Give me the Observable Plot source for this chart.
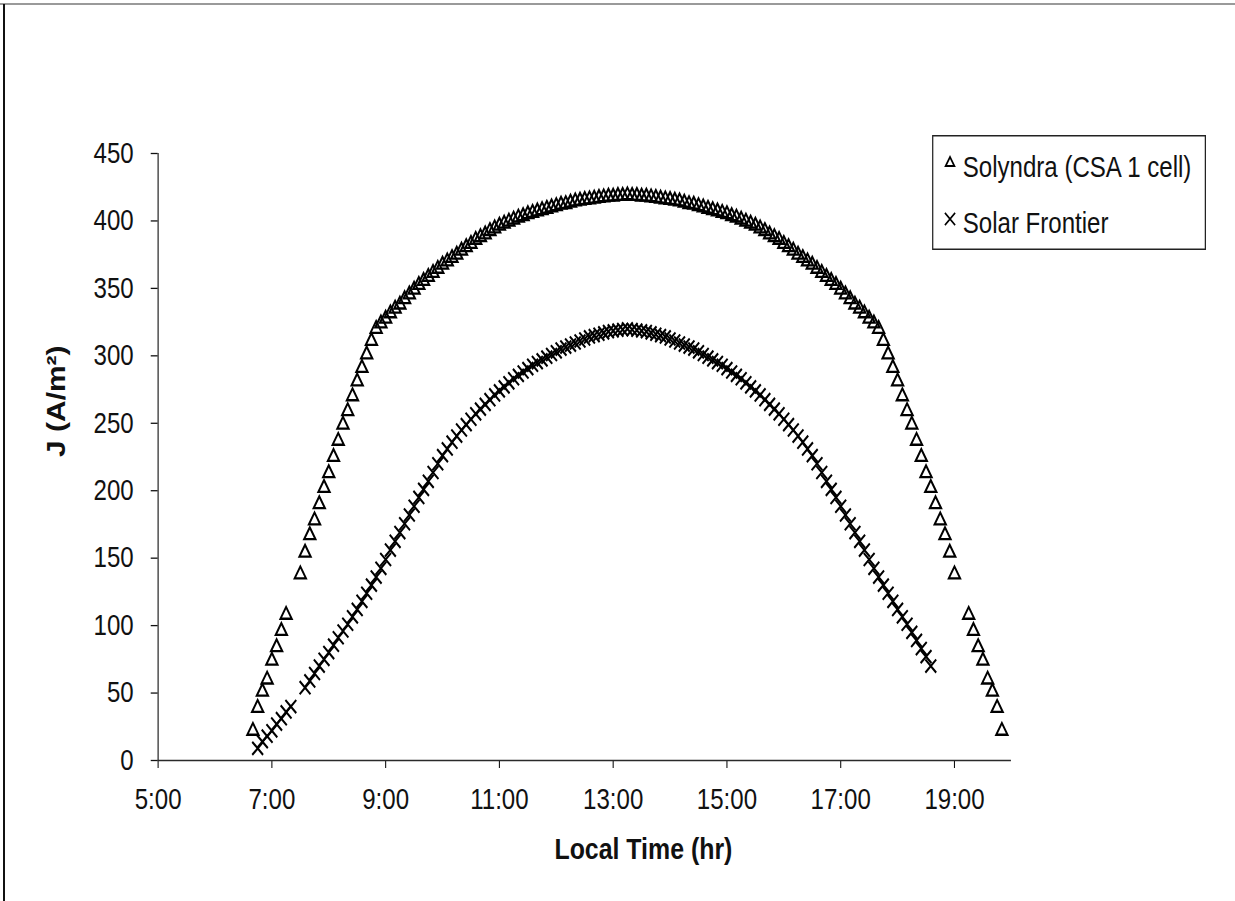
<!DOCTYPE html>
<html>
<head>
<meta charset="utf-8">
<script src="https://cdn.jsdelivr.net/npm/d3@7"></script>
<script src="https://cdn.jsdelivr.net/npm/@observablehq/plot@0.6"></script>
<style>
  html, body { margin: 0; padding: 0; background: #fff; }
  body { width: 1235px; height: 901px; overflow: hidden; position: relative; }
  #stage { position: absolute; left: 0; top: 0; width: 1488px; height: 901px;
           transform: scaleX(0.83); transform-origin: 0 0; }
  #stage > svg { position: absolute; left: 0; top: 0; }
  #frameTop { position: absolute; left: 0; top: 3px; width: 1235px; height: 2px; background: #9a9a9a; z-index: 5; }
  #frameLeft { position: absolute; left: 3px; top: 4px; width: 2px; height: 897px; background: #111; z-index: 5; }
</style>
</head>
<body>
<div id="stage"></div>
<div id="frameTop"></div>
<div id="frameLeft"></div>
<script>
// ---------- data ----------
const seriesNames = ["Solyndra (CSA 1 cell)", "Solar Frontier"];

const xTickHours  = [5, 7, 9, 11, 13, 15, 17, 19];
const xTickLabels = ["5:00", "7:00", "9:00", "11:00", "13:00", "15:00", "17:00", "19:00"];
const yTicks      = [0, 50, 100, 150, 200, 250, 300, 350, 400, 450];

const solyndraTime = [
  "6:40","6:45","6:50","6:55",
  "7:00","7:05","7:10","7:15","7:30","7:35","7:40","7:45","7:50","7:55",
  "8:00","8:05","8:10","8:15","8:20","8:25","8:30","8:35","8:40","8:45","8:50","8:55",
  "9:00","9:05","9:10","9:15","9:20","9:25","9:30","9:35","9:40","9:45","9:50","9:55",
  "10:00","10:05","10:10","10:15","10:20","10:25","10:30","10:35","10:40","10:45","10:50","10:55",
  "11:00","11:05","11:10","11:15","11:20","11:25","11:30","11:35","11:40","11:45","11:50","11:55",
  "12:00","12:05","12:10","12:15","12:20","12:25","12:30","12:35","12:40","12:45","12:50","12:55",
  "13:00","13:05","13:10","13:15","13:20","13:25","13:30","13:35","13:40","13:45","13:50","13:55",
  "14:00","14:05","14:10","14:15","14:20","14:25","14:30","14:35","14:40","14:45","14:50","14:55",
  "15:00","15:05","15:10","15:15","15:20","15:25","15:30","15:35","15:40","15:45","15:50","15:55",
  "16:00","16:05","16:10","16:15","16:20","16:25","16:30","16:35","16:40","16:45","16:50","16:55",
  "17:00","17:05","17:10","17:15","17:20","17:25","17:30","17:35","17:40","17:45","17:50","17:55",
  "18:00","18:05","18:10","18:15","18:20","18:25","18:30","18:35","18:40","18:45","18:50","18:55",
  "19:00","19:15","19:20","19:25","19:30","19:35","19:40","19:45","19:50"
];
const solyndraJ = [
  22, 39, 51, 60,
  74, 84, 96, 108, 138, 154, 167, 178, 190, 202,
  213, 225, 237, 249, 259, 270, 281, 291, 301, 311, 320, 324,
  327.5, 331.5, 335, 338, 342, 345.5, 349, 352.5, 355.5, 358.5, 361.5, 364.5,
  367.5, 370, 372.5, 375, 378, 380.5, 383, 386, 388, 390, 392.5, 394.5,
  396.5, 398, 399.5, 401, 402.5, 403.5, 405, 406, 407, 408, 409, 410,
  411, 412, 412.5, 413.5, 414.5, 415, 415.5, 416, 416.5, 417, 417.5, 418,
  418, 418.5, 418.5, 419, 418.5, 418.5, 418, 418, 417.5, 417, 416.5, 416,
  415.5, 415, 414.5, 413.5, 412.5, 412, 411, 410, 409, 408, 407, 406,
  405, 403.5, 402.5, 401, 399.5, 398, 396.5, 394.5, 392.5, 390, 388, 386,
  383, 380.5, 378, 375, 372.5, 370, 367.5, 364.5, 361.5, 358.5, 355.5, 352.5,
  349, 345.5, 342, 338, 335, 331.5, 327.5, 324, 320, 311, 301, 291,
  281, 270, 259, 249, 237, 225, 213, 202, 190, 178, 167, 154,
  138, 108, 96, 84, 74, 60, 51, 39, 22
];

const frontierTime = [
  "6:45","6:50","6:55",
  "7:00","7:05","7:10","7:15","7:20","7:35","7:40","7:45","7:50","7:55",
  "8:00","8:05","8:10","8:15","8:20","8:25","8:30","8:35","8:40","8:45","8:50","8:55",
  "9:00","9:05","9:10","9:15","9:20","9:25","9:30","9:35","9:40","9:45","9:50","9:55",
  "10:00","10:05","10:10","10:15","10:20","10:25","10:30","10:35","10:40","10:45","10:50","10:55",
  "11:00","11:05","11:10","11:15","11:20","11:25","11:30","11:35","11:40","11:45","11:50","11:55",
  "12:00","12:05","12:10","12:15","12:20","12:25","12:30","12:35","12:40","12:45","12:50","12:55",
  "13:00","13:05","13:10","13:15","13:20","13:25","13:30","13:35","13:40","13:45","13:50","13:55",
  "14:00","14:05","14:10","14:15","14:20","14:25","14:30","14:35","14:40","14:45","14:50","14:55",
  "15:00","15:05","15:10","15:15","15:20","15:25","15:30","15:35","15:40","15:45","15:50","15:55",
  "16:00","16:05","16:10","16:15","16:20","16:25","16:30","16:35","16:40","16:45","16:50","16:55",
  "17:00","17:05","17:10","17:15","17:20","17:25","17:30","17:35","17:40","17:45","17:50","17:55",
  "18:00","18:05","18:10","18:15","18:20","18:25","18:30","18:35"
];
const frontierJ = [
  9, 14, 18,
  22, 27, 31, 36, 40, 54, 59, 64.5, 70, 75,
  80, 85.5, 91, 96, 101, 106.5, 112, 118, 124, 130, 136, 142.5,
  149, 156, 162.5, 169, 175.5, 182, 188.5, 195, 201, 207, 213.5, 220,
  226, 231, 236, 240.5, 245, 249, 253, 257, 260.5, 264, 267.5, 271,
  274, 277, 280, 283, 285.5, 288, 290.5, 293, 295, 297, 299, 301,
  303, 305, 306.5, 308, 309.5, 311, 312.5, 314, 315, 316, 317, 318,
  318.5, 319, 319.5, 320, 319.5, 319, 318.5, 318, 317, 316, 315, 314,
  312.5, 311, 309.5, 308, 306.5, 305, 303, 301, 299, 297, 295, 293,
  290.5, 288, 285.5, 283, 280, 277, 274, 271, 267.5, 264, 260.5, 257,
  253, 249, 245, 240.5, 236, 231, 226, 220, 213.5, 207, 201, 195,
  188.5, 182, 175.5, 169, 162.5, 156, 149, 142.5, 136, 130, 124, 118,
  112, 106.5, 101, 95, 89, 83, 77, 70
];

// ---------- build ----------
const toHours = s => { const [h, m] = s.split(":").map(Number); return h + m / 60; };
const soly  = solyndraTime.map((t, i) => ({h: toHours(t), j: solyndraJ[i]}));
const front = frontierTime.map((t, i) => ({h: toHours(t), j: frontierJ[i]}));

const FONT = "'Liberation Sans', Arial, Helvetica, sans-serif";
const W = 1488, H = 901;

const chart = Plot.plot({
  width: W,
  height: H,
  marginLeft: 190,
  marginRight: 270,
  marginTop: 153,
  marginBottom: 141,
  style: {fontFamily: FONT, fontSize: "29px", color: "#111", background: "transparent", overflow: "visible"},
  x: {domain: [5, 20]},
  y: {domain: [0, 450]},
  marks: [
    Plot.axisY(yTicks, {tickSize: 8.4, tickPadding: 21, fontSize: 29, label: null, strokeWidth: 1.3}),
    Plot.axisX(xTickHours, {tickSize: 8, tickPadding: 20, fontSize: 29, label: null, strokeWidth: 1.3,
      tickFormat: d => xTickLabels[xTickHours.indexOf(d)]}),
    Plot.ruleX([5], {stroke: "#2a2a2a", strokeWidth: 1.5}),
    Plot.ruleY([0], {stroke: "#2a2a2a", strokeWidth: 1.3}),
    Plot.dot(soly, {x: "h", y: "j", symbol: "triangle2", r: 6.5, stroke: "black", strokeWidth: 2.3, fill: "none"}),
    Plot.dot(front, {x: "h", y: "j", symbol: "times", r: 6, stroke: "black", strokeWidth: 2.3}),
    Plot.text(["Local Time (hr)"], {text: d => d, frameAnchor: "bottom", dx: 70.7, dy: 98,
      lineAnchor: "bottom", fontWeight: "bold", fontSize: 30, fill: "#111"}),
    Plot.text(["J (A/m²)"], {text: d => d, frameAnchor: "left", dx: -112, rotate: -90,
      lineAnchor: "bottom", fontWeight: "bold", fontSize: 30, fill: "#111"})
  ]
});
document.getElementById("stage").appendChild(chart);

// ---------- legend (inside the chart area, upper right) ----------
const leg = d3.select("#stage").append("svg")
  .attr("width", 330).attr("height", 115)
  .style("position", "absolute").style("left", "1123px").style("top", "135px")
  .style("overflow", "visible");
leg.append("rect")
  .attr("x", 0.75).attr("y", 0.75).attr("width", 328.5).attr("height", 113.5)
  .attr("fill", "white").attr("stroke", "#222").attr("stroke-width", 1.5);
const legSymbols = [d3.symbolTriangle2, d3.symbolTimes];
const legSizes = [80, 100];
const legRows = [{sy: 28, ty: 42}, {sy: 84, ty: 98}];
seriesNames.forEach((name, i) => {
  leg.append("path")
    .attr("d", d3.symbol(legSymbols[i], legSizes[i])())
    .attr("transform", `translate(21.6,${legRows[i].sy})`)
    .attr("fill", "none").attr("stroke", "black").attr("stroke-width", 2);
  leg.append("text")
    .attr("x", 37).attr("y", legRows[i].ty)
    .attr("font-family", FONT).attr("font-size", 29).attr("fill", "#111")
    .text(name);
});
</script>
</body>
</html>
